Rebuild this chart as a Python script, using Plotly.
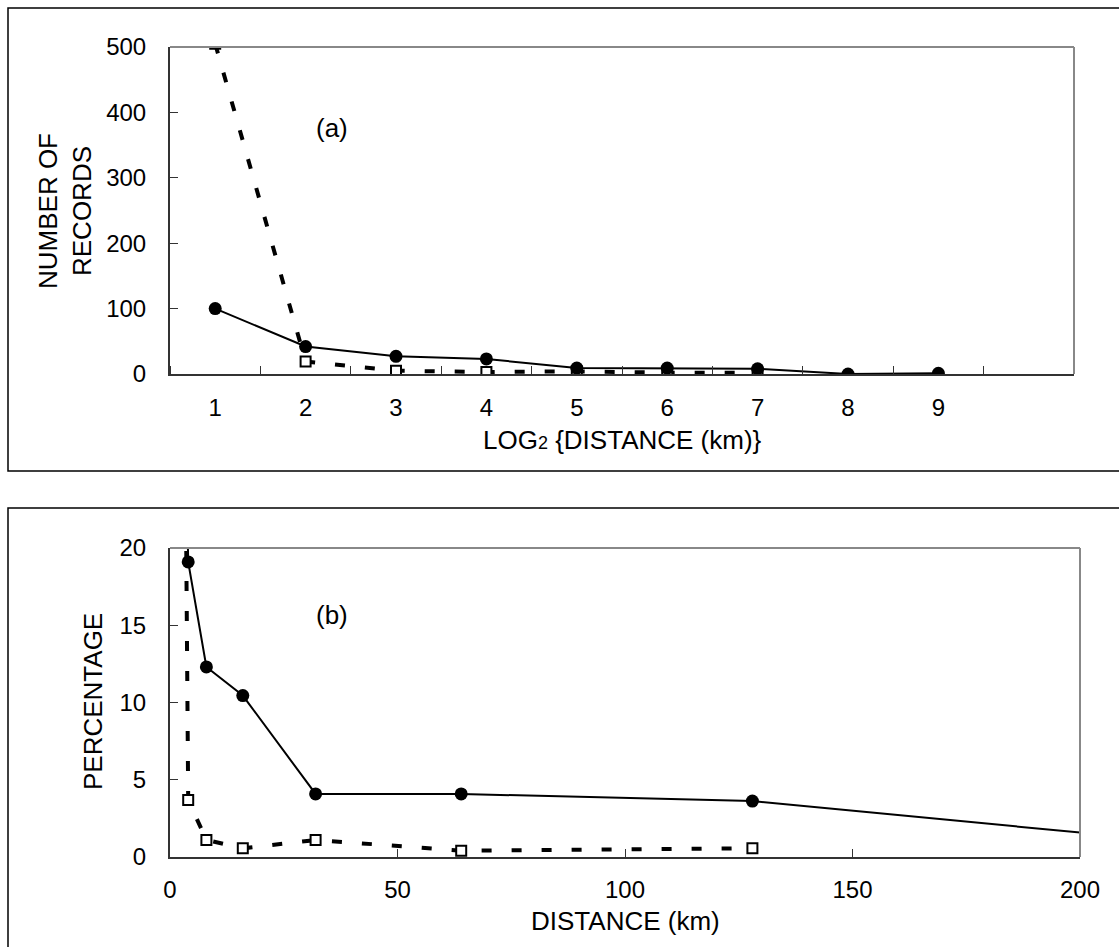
import plotly.graph_objects as go

W, H = 1119, 947

# ---------------- (a) data ----------------
log2_dist_solid = [1, 2, 3, 4, 5, 6, 7, 8, 9]
records_solid = [100, 42, 27, 23, 9, 9, 8, 0, 1]
log2_dist_dash = [1, 2, 3, 4, 5, 6, 7]
records_dash = [505, 19, 5, 3, 4, 2, 2]
a_tick_vals = [1, 2, 3, 4, 5, 6, 7, 8, 9]
a_tick_text = ["1", "2", "3", "4", "5", "6", "7", "8", "9"]
a_y_ticks = [0, 100, 200, 300, 400, 500]

# ---------------- (b) data ----------------
dist_solid = [2, 4, 8, 16, 32, 64, 128, 256]
pct_solid = [50, 19.1, 12.3, 10.45, 4.08, 4.08, 3.62, 0]
dist_dash = [2, 4, 8, 16, 32, 64, 128]
pct_dash = [80, 3.69, 1.1, 0.56, 1.1, 0.41, 0.56]
b_x_ticks = [0, 50, 100, 150, 200]
b_y_ticks = [0, 5, 10, 15, 20]

FONT = "Arial, 'Liberation Sans', sans-serif"
TICKFONT = dict(family=FONT, size=24, color="black")

fig = go.Figure()

dash_line = dict(color="black", width=4, dash="10px,20px")
solid_line = dict(color="black", width=2)
sq_marker = dict(symbol="square", size=10, color="white", line=dict(color="black", width=2))
ci_marker = dict(symbol="circle", size=13, color="black", line=dict(width=0))

# (a)
fig.add_trace(go.Scatter(x=log2_dist_dash, y=records_dash, mode="lines+markers",
                         line=dash_line, marker=sq_marker, xaxis="x", yaxis="y"))
fig.add_trace(go.Scatter(x=log2_dist_solid, y=records_solid, mode="lines+markers",
                         line=solid_line, marker=ci_marker, xaxis="x", yaxis="y"))
# (b)
fig.add_trace(go.Scatter(x=dist_dash, y=pct_dash, mode="lines+markers",
                         line=dash_line, marker=sq_marker, xaxis="x2", yaxis="y2"))
fig.add_trace(go.Scatter(x=dist_solid, y=pct_solid, mode="lines+markers",
                         line=solid_line, marker=ci_marker, xaxis="x2", yaxis="y2"))

axis_common = dict(showgrid=False, zeroline=False, showline=True, linecolor="#333333",
                   linewidth=2, tickfont=TICKFONT, fixedrange=True, automargin=False)

fig.update_layout(
    template="none",
    width=W, height=H,
    margin=dict(l=0, r=0, t=0, b=0, pad=0, autoexpand=False),
    paper_bgcolor="white", plot_bgcolor="white",
    showlegend=False,
    xaxis=dict(domain=[170 / W, 1074 / W], range=[0.5, 10.5], anchor="y",
               tickvals=a_tick_vals, ticktext=a_tick_text, ticks="",
               ticklabelstandoff=11,
               minor=dict(tickvals=[i + 0.5 for i in range(0, 11)], ticks="inside",
                          ticklen=8, tickcolor="#333333", tickwidth=1),
               **axis_common),
    yaxis=dict(domain=[1 - 374 / H, 1 - 47 / H], range=[0, 500], anchor="x",
               tickvals=a_y_ticks, ticks="inside", ticklen=8, tickcolor="#333333",
               ticklabelstandoff=17, **axis_common),
    xaxis2=dict(domain=[170 / W, 1080 / W], range=[0, 200], anchor="y2",
                tickvals=b_x_ticks, ticks="inside", ticklen=8, tickcolor="#333333",
                ticklabelstandoff=10, **axis_common),
    yaxis2=dict(domain=[1 - 857 / H, 1 - 548 / H], range=[0, 20], anchor="x2",
                tickvals=b_y_ticks, ticks="inside", ticklen=8, tickcolor="#333333",
                ticklabelstandoff=17, **axis_common),
)

shapes = [
    # outer frames
    dict(type="rect", xref="paper", yref="paper", x0=8 / W, x1=1.02,
         y0=1 - 471 / H, y1=1 - 8 / H, line=dict(color="black", width=1.5)),
    dict(type="rect", xref="paper", yref="paper", x0=8 / W, x1=1.02,
         y0=-0.02, y1=1 - 508 / H, line=dict(color="black", width=1.5)),
]
for xr, yr in (("x", "y"), ("x2", "y2")):
    shapes.append(dict(type="line", xref=f"{xr} domain", yref=f"{yr} domain",
                       x0=0, x1=1, y0=1, y1=1, line=dict(color="#888888", width=2)))
    shapes.append(dict(type="line", xref=f"{xr} domain", yref=f"{yr} domain",
                       x0=1, x1=1, y0=0, y1=1, line=dict(color="#888888", width=2)))
fig.update_layout(shapes=shapes)

TITLEFONT = dict(family=FONT, size=26, color="black")
ann = [
    dict(text="NUMBER OF<br>RECORDS", x=65 / W, y=1 - 211 / H, textangle=-90),
    dict(text="LOG<span style='font-size:18px'>2</span> {DISTANCE (km)}", x=622 / W, y=1 - 440 / H),
    dict(text="(a)", x=332 / W, y=1 - 128 / H),
    dict(text="PERCENTAGE", x=93 / W, y=1 - 702 / H, textangle=-90),
    dict(text="DISTANCE (km)", x=625 / W, y=1 - 921 / H),
    dict(text="(b)", x=332 / W, y=1 - 615 / H),
]
for a in ann:
    a.update(xref="paper", yref="paper", showarrow=False, font=TITLEFONT,
             xanchor="center", yanchor="middle")
fig.update_layout(annotations=ann)

fig.write_html("out.html", config={"displayModeBar": False},
               post_script="document.body.style.margin='0';")
